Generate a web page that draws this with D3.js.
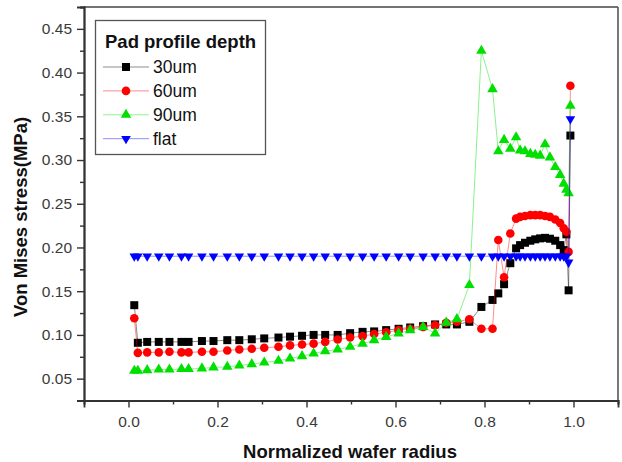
<!DOCTYPE html>
<html>
<head>
<meta charset="utf-8">
<script src="https://cdn.jsdelivr.net/npm/d3@7/dist/d3.min.js"></script>
<style>
  body { margin: 0; background: #fff; }
  svg { display: block; font-family: "Liberation Sans", Arial, sans-serif; }
</style>
</head>
<body>
<svg id="chart" width="622" height="462"></svg>
<script>
// normalized radius positions shared by all four curves
var radius = [0.013, 0.021, 0.042, 0.068, 0.092, 0.119, 0.135, 0.165, 0.191, 0.222,
  0.249, 0.277, 0.305, 0.337, 0.363, 0.390, 0.416, 0.442, 0.470, 0.498,
  0.526, 0.552, 0.579, 0.607, 0.633, 0.662, 0.689, 0.714, 0.738, 0.766,
  0.793, 0.818, 0.831, 0.844, 0.858, 0.871, 0.880, 0.891, 0.903, 0.914,
  0.925, 0.936, 0.947, 0.959, 0.970, 0.978, 0.984, 0.989, 0.993];

var depth30 = [0.134, 0.091, 0.092, 0.092, 0.092, 0.092, 0.092, 0.093, 0.093, 0.094,
  0.094, 0.095, 0.096, 0.097, 0.098, 0.099, 0.100, 0.100, 0.100, 0.102,
  0.1035, 0.104, 0.1055, 0.107, 0.1085, 0.110, 0.112, 0.112, 0.112, 0.115,
  0.132, 0.140, 0.1475, 0.158, 0.182, 0.199, 0.2027, 0.2054, 0.2077, 0.2093,
  0.2104, 0.211, 0.210, 0.2077, 0.2027, 0.197, 0.215, 0.151, 0.328];

var depth60 = [0.119, 0.0795, 0.080, 0.080, 0.0807, 0.080, 0.080, 0.0807, 0.0807, 0.0822,
  0.0834, 0.0841, 0.0853, 0.0864, 0.088, 0.089, 0.090, 0.092, 0.0948, 0.097,
  0.0986, 0.101, 0.103, 0.1055, 0.107, 0.109, 0.111, 0.114, 0.115, 0.118,
  0.107, 0.107, 0.2085, 0.166, 0.216, 0.233, 0.235, 0.236, 0.237, 0.237,
  0.237, 0.236, 0.235, 0.232, 0.228, 0.222, 0.218, 0.195, 0.385];

var depth90 = [0.059, 0.059, 0.0597, 0.0605, 0.0605, 0.061, 0.061, 0.0617, 0.0628, 0.0635,
  0.065, 0.0666, 0.0685, 0.0704, 0.073, 0.0757, 0.0788, 0.0815, 0.0834, 0.0864,
  0.090, 0.094, 0.0978, 0.1017, 0.1055, 0.109, 0.1017, 0.114, 0.118, 0.157,
  0.425, 0.381, 0.310, 0.323, 0.313, 0.326, 0.311, 0.310, 0.307, 0.306,
  0.305, 0.318, 0.303, 0.292, 0.283, 0.273, 0.266, 0.262, 0.362];

var flat = [0.19, 0.19, 0.19, 0.19, 0.19, 0.19, 0.19, 0.19, 0.19, 0.19,
  0.19, 0.19, 0.19, 0.19, 0.19, 0.19, 0.19, 0.19, 0.19, 0.19,
  0.19, 0.19, 0.19, 0.19, 0.19, 0.19, 0.19, 0.19, 0.19, 0.19,
  0.19, 0.19, 0.19, 0.19, 0.19, 0.19, 0.19, 0.19, 0.19, 0.19,
  0.19, 0.19, 0.19, 0.19, 0.19, 0.19, 0.19, 0.183, 0.347];

var seriesNames = ["30um", "60um", "90um", "flat"];
var xTicks = [0.0, 0.2, 0.4, 0.6, 0.8, 1.0];
var xMinor = [-0.1, 0.1, 0.3, 0.5, 0.7, 0.9, 1.1];
var yTicks = [0.05, 0.10, 0.15, 0.20, 0.25, 0.30, 0.35, 0.40, 0.45];
var yMinor = [0.025, 0.075, 0.125, 0.175, 0.225, 0.275, 0.325, 0.375, 0.425, 0.475];

var svg = d3.select("#chart");
var plotL = 84, plotR = 618, plotT = 7, plotB = 400.5;

var x = d3.scaleLinear().domain([-0.1, 1.1]).range([plotL, plotR]);
var y = d3.scaleLinear().domain([0.025, 0.475]).range([plotB, plotT]);

// frame (top + right)
svg.append("line").attr("x1", plotL).attr("x2", plotR).attr("y1", plotT).attr("y2", plotT)
  .attr("stroke", "#444").attr("stroke-width", 1.6);
svg.append("line").attr("x1", plotR).attr("x2", plotR).attr("y1", plotT).attr("y2", plotB)
  .attr("stroke", "#555").attr("stroke-width", 1.6);

// axes
var gx = svg.append("g").attr("transform", "translate(0," + plotB + ")")
  .call(d3.axisBottom(x).tickValues(xTicks).tickSize(7).tickPadding(4).tickFormat(d3.format(".1f")));
var gxm = svg.append("g").attr("transform", "translate(0," + plotB + ")")
  .call(d3.axisBottom(x).tickValues(xMinor).tickSize(4).tickFormat(""));
var gy = svg.append("g").attr("transform", "translate(" + plotL + ",0)")
  .call(d3.axisLeft(y).tickValues(yTicks).tickSize(7).tickPadding(5).tickFormat(d3.format(".2f")));
var gym = svg.append("g").attr("transform", "translate(" + plotL + ",0)")
  .call(d3.axisLeft(y).tickValues(yMinor).tickSize(4).tickFormat(""));

[gx, gxm, gy, gym].forEach(function(g){
  g.select(".domain").attr("stroke", "#333").attr("stroke-width", 1.8);
  g.selectAll(".tick line").attr("stroke", "#333").attr("stroke-width", 1.4);
  g.selectAll(".tick text").attr("fill", "#3a3a3a").attr("font-size", "15.5px")
    .attr("font-family", "Liberation Sans, Arial, sans-serif");
});
gx.selectAll(".tick text").attr("dy", "1em");

// axis titles
svg.append("text")
  .attr("x", 350).attr("y", 458)
  .attr("text-anchor", "middle")
  .attr("font-weight", 700).attr("font-size", "18.5px").attr("fill", "#111")
  .text("Normalized wafer radius");
svg.append("text")
  .attr("transform", "translate(27,217) rotate(-90)")
  .attr("text-anchor", "middle")
  .attr("font-weight", 700).attr("font-size", "18.5px").attr("fill", "#111")
  .text("Von Mises stress(MPa)");

// series
var series = [
  { name: seriesNames[0], values: depth30, color: "#000000", sym: d3.symbolSquare, size: 64, rot: 0 },
  { name: seriesNames[1], values: depth60, color: "#ff0000", sym: d3.symbolCircle, size: 58, rot: 0 },
  { name: seriesNames[2], values: depth90, color: "#00e000", sym: d3.symbolTriangle, size: 48, rot: 0 },
  { name: seriesNames[3], values: flat, color: "#0000ff", sym: d3.symbolTriangle, size: 40, rot: 180 }
];

var line = d3.line()
  .x(function(d){ return x(d[0]); })
  .y(function(d){ return y(d[1]); });

series.forEach(function(s){
  var pts = radius.map(function(r, i){ return [r, s.values[i]]; });
  svg.append("path")
    .datum(pts)
    .attr("d", line)
    .attr("fill", "none")
    .attr("stroke", s.color)
    .attr("stroke-opacity", 0.45)
    .attr("stroke-width", 1);
  svg.append("g").selectAll("path")
    .data(pts)
    .enter().append("path")
    .attr("d", d3.symbol().type(s.sym).size(s.size))
    .attr("transform", function(d){
      return "translate(" + x(d[0]) + "," + y(d[1]) + ") rotate(" + s.rot + ")";
    })
    .attr("fill", s.color);
});

// legend
var lg = svg.append("g");
lg.append("rect").attr("x", 95.5).attr("y", 20.5).attr("width", 170).attr("height", 134)
  .attr("fill", "#fff").attr("stroke", "#555").attr("stroke-width", 1.3);
lg.append("text").attr("x", 105).attr("y", 48)
  .attr("font-weight", 700).attr("font-size", "18.5px").attr("fill", "#111")
  .text("Pad profile depth");
series.forEach(function(s, i){
  var cy = 67 + i * 23.9;
  lg.append("line").attr("x1", 103).attr("x2", 149).attr("y1", cy).attr("y2", cy)
    .attr("stroke", s.color).attr("stroke-opacity", 0.45).attr("stroke-width", 1);
  lg.append("path")
    .attr("d", d3.symbol().type(s.sym).size(s.size))
    .attr("transform", "translate(126," + cy + ") rotate(" + s.rot + ")")
    .attr("fill", s.color);
  lg.append("text").attr("x", 153).attr("y", cy + 6)
    .attr("font-size", "17.5px").attr("fill", "#111")
    .text(s.name);
});
</script>
</body>
</html>
